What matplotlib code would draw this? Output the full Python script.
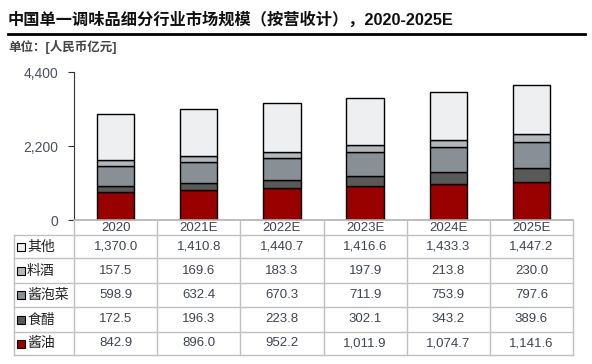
import matplotlib
matplotlib.use("Agg")
import matplotlib.pyplot as plt
from matplotlib.patches import Rectangle

plt.rcParams['font.family'] = ['Liberation Sans', 'Noto Sans CJK SC']

years = ["2020", "2021E", "2022E", "2023E", "2024E", "2025E"]
series_names = ["酱油", "食醋", "酱泡菜", "料酒", "其他"]
soy = [842.9, 896.0, 952.2, 1011.9, 1074.7, 1141.6]
vinegar = [172.5, 196.3, 223.8, 302.1, 343.2, 389.6]
pickles = [598.9, 632.4, 670.3, 711.9, 753.9, 797.6]
wine = [157.5, 169.6, 183.3, 197.9, 213.8, 230.0]
other = [1370.0, 1410.8, 1440.7, 1416.6, 1433.3, 1447.2]
colors = ["#990000", "#595959", "#899095", "#b1b7ba", "#eeeff1"]
yticks = [0, 2200, 4400]

W, H = 592, 364
fig = plt.figure(figsize=(W / 100, H / 100), dpi=100)

def fx(px):
    return px / W

def fy(py):
    return 1 - py / H

text_c = "#3f4550"

# main axes
left, right, top, bottom = 74, 573, 72, 220
ax = fig.add_axes([fx(left), fy(bottom), fx(right - left), (bottom - top) / H])
data = [soy, vinegar, pickles, wine, other]
x = list(range(len(years)))
base = [0.0] * len(years)
for vals, c in zip(data, colors):
    ax.bar(x, vals, bottom=base, width=0.45, color=c, edgecolor="black", linewidth=1.0)
    base = [b + v for b, v in zip(base, vals)]
ax.set_xlim(-0.5, len(years) - 0.5)
ax.set_ylim(0, 4400)
ax.set_yticks(yticks)
ax.set_yticklabels([f"{v:,}" for v in yticks], fontsize=10, color="#4a5060")
ax.set_xticks([])
for s in ["top", "right"]:
    ax.spines[s].set_visible(False)
ax.spines["bottom"].set_color("#b0b0b0")
ax.spines["bottom"].set_linewidth(1.2)
ax.spines["left"].set_color("#333333")
ax.tick_params(axis="y", length=4.3, color="#333333", pad=7)

# overlay for title and table (pixel coordinates)
ov = fig.add_axes([0, 0, 1, 1])
ov.set_xlim(0, W)
ov.set_ylim(H, 0)
ov.axis("off")

ov.text(8, 19, "中国单一调味品细分行业市场规模（按营收计），2020-2025E", fontsize=11.7,
        fontweight="bold", va="center", ha="left", color="#111111")
ov.plot([8, 585], [34, 34], color="black", lw=2)
ov.text(8, 47, "单位：[人民币亿元]", fontsize=9, fontweight="bold", va="center",
        ha="left", color="#444444")

col_x = [74 + i * (573 - 74) / 6 for i in range(7)]
row_y = [220, 235, 258, 283, 307, 332, 355]
grid_c = "#c0c0c0"
# vertical lines
for cx in col_x:
    ov.plot([cx, cx], [220, 355], color=grid_c, lw=1)
ov.plot([14, 14], [235, 355], color=grid_c, lw=1)
for ry in row_y[1:]:
    ov.plot([14, 573], [ry, ry], color=grid_c, lw=1)

# header
for i, yr in enumerate(years):
    ov.text((col_x[i] + col_x[i + 1]) / 2, 228, yr, fontsize=9.5, ha="center",
            va="center", color=text_c)

rows = list(zip(series_names, data, colors))[::-1]
for r, (name, vals, c) in enumerate(rows):
    yc = (row_y[r + 1] + row_y[r + 2]) / 2
    ov.add_patch(Rectangle((17, yc - 4), 8, 8, facecolor=c, edgecolor="black", lw=0.8))
    ov.text(27, yc, name, fontsize=10, ha="left", va="center", color="#222222")
    for i, v in enumerate(vals):
        ov.text((col_x[i] + col_x[i + 1]) / 2, yc, f"{v:,.1f}", fontsize=9.5,
                ha="center", va="center", color=text_c)

fig.savefig("out.png", dpi=100)
